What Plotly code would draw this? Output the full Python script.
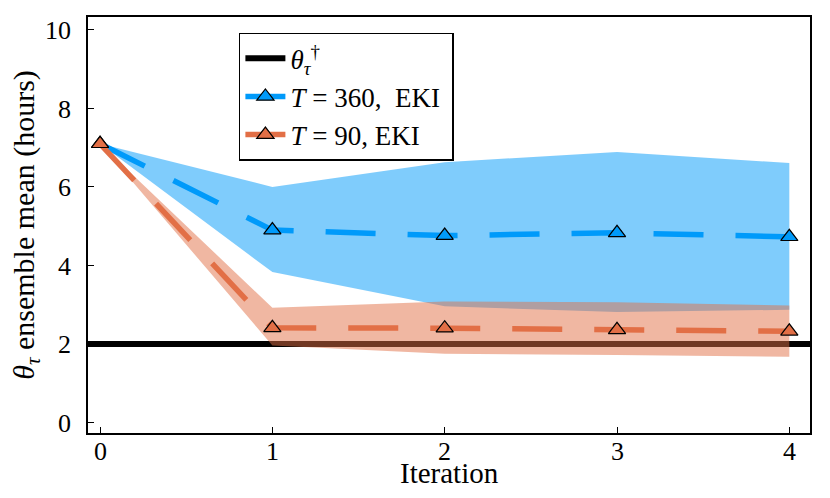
"""
EKI 迭代中 theta_tau 集合均值的收敛曲线（两种 T），带集合范围阴影。
"""

import plotly.graph_objects as go

# 数据
iterations = [0, 1, 2, 3, 4]
truth_value = 2.0
x_span = [-0.07, 4.12]

t360_mean = [7.1, 4.9, 4.76, 4.83, 4.73]
t360_upper = [7.1, 6.0, 6.63, 6.89, 6.61]
t360_lower = [7.1, 3.83, 2.96, 2.81, 2.87]

t90_mean = [7.1, 2.41, 2.40, 2.36, 2.32]
t90_upper = [7.1, 2.92, 3.08, 3.06, 2.98]
t90_lower = [7.1, 1.96, 1.75, 1.72, 1.67]

y_ticks = [0, 2, 4, 6, 8, 10]

BLUE = '#009AFA'
ORANGE = '#E26F46'
FONT = 'Liberation Serif'


def add_band(fig, x, upper, lower, color):
    fig.add_trace(go.Scatter(
        x=x + x[::-1], y=upper + lower[::-1],
        fill='toself', fillcolor=color, opacity=0.5,
        line=dict(width=0), mode='lines',
        hoverinfo='skip', showlegend=False,
    ))


def add_mean(fig, x, y, color, name):
    fig.add_trace(go.Scatter(
        x=x, y=y, mode='lines+markers', name=name,
        line=dict(color=color, width=5.5, dash='50px,32px'),
        marker=dict(symbol='triangle-up', size=15, color=color,
                    line=dict(color='black', width=1.2)),
    ))


fig = go.Figure()
fig.add_trace(go.Scatter(
    x=x_span, y=[truth_value, truth_value], mode='lines',
    name='<i>θ</i><sub><i>τ</i></sub><sup>†</sup>',
    line=dict(color='black', width=6),
))
add_band(fig, iterations, t360_upper, t360_lower, BLUE)
add_mean(fig, iterations, t360_mean, BLUE, '<i>T</i> = 360,  EKI ')
add_band(fig, iterations, t90_upper, t90_lower, ORANGE)
add_mean(fig, iterations, t90_mean, ORANGE, '<i>T</i> = 90, EKI')

axis_style = dict(
    showline=True, linecolor='black', linewidth=1.5, mirror=True,
    ticks='inside', ticklen=6, tickcolor='black', showgrid=False,
    zeroline=False, automargin=False,
    tickfont=dict(size=26, color='black', family=FONT),
)
# x 轴刻度文字用注释画，方便贴近坐标轴
fig.update_xaxes(range=x_span, tickvals=iterations, showticklabels=False, **axis_style)
fig.update_yaxes(range=[-0.27, 10.33], tickvals=y_ticks, ticklabelstandoff=10,
                 title=dict(text='<i>θ</i><sub><i>τ</i></sub> ensemble mean (hours)',
                            font=dict(size=30, family=FONT, color='black'), standoff=2),
                 **axis_style)

for it in iterations:
    fig.add_annotation(x=it, y=0, xref='x', yref='paper', text=str(it),
                       showarrow=False, yanchor='top', yshift=-2,
                       font=dict(size=26, family=FONT, color='black'))
fig.add_annotation(x=0.5, y=0, xref='paper', yref='paper', text='Iteration',
                   showarrow=False, yanchor='top', yshift=-22,
                   font=dict(size=29, family=FONT, color='black'))

fig.update_layout(
    width=830, height=498,
    margin=dict(l=88, r=20, t=17, b=65),
    plot_bgcolor='white', paper_bgcolor='white',
    font=dict(family=FONT, color='black'),
    legend=dict(x=0.209, y=0.962, xanchor='left', yanchor='top',
                bgcolor='white', bordercolor='black', borderwidth=1.5,
                font=dict(size=27, family=FONT), tracegroupgap=0,
                itemwidth=40),
)

fig.write_html("out.html", config={'displayModeBar': False},
               post_script="document.body.style.margin='0';")
